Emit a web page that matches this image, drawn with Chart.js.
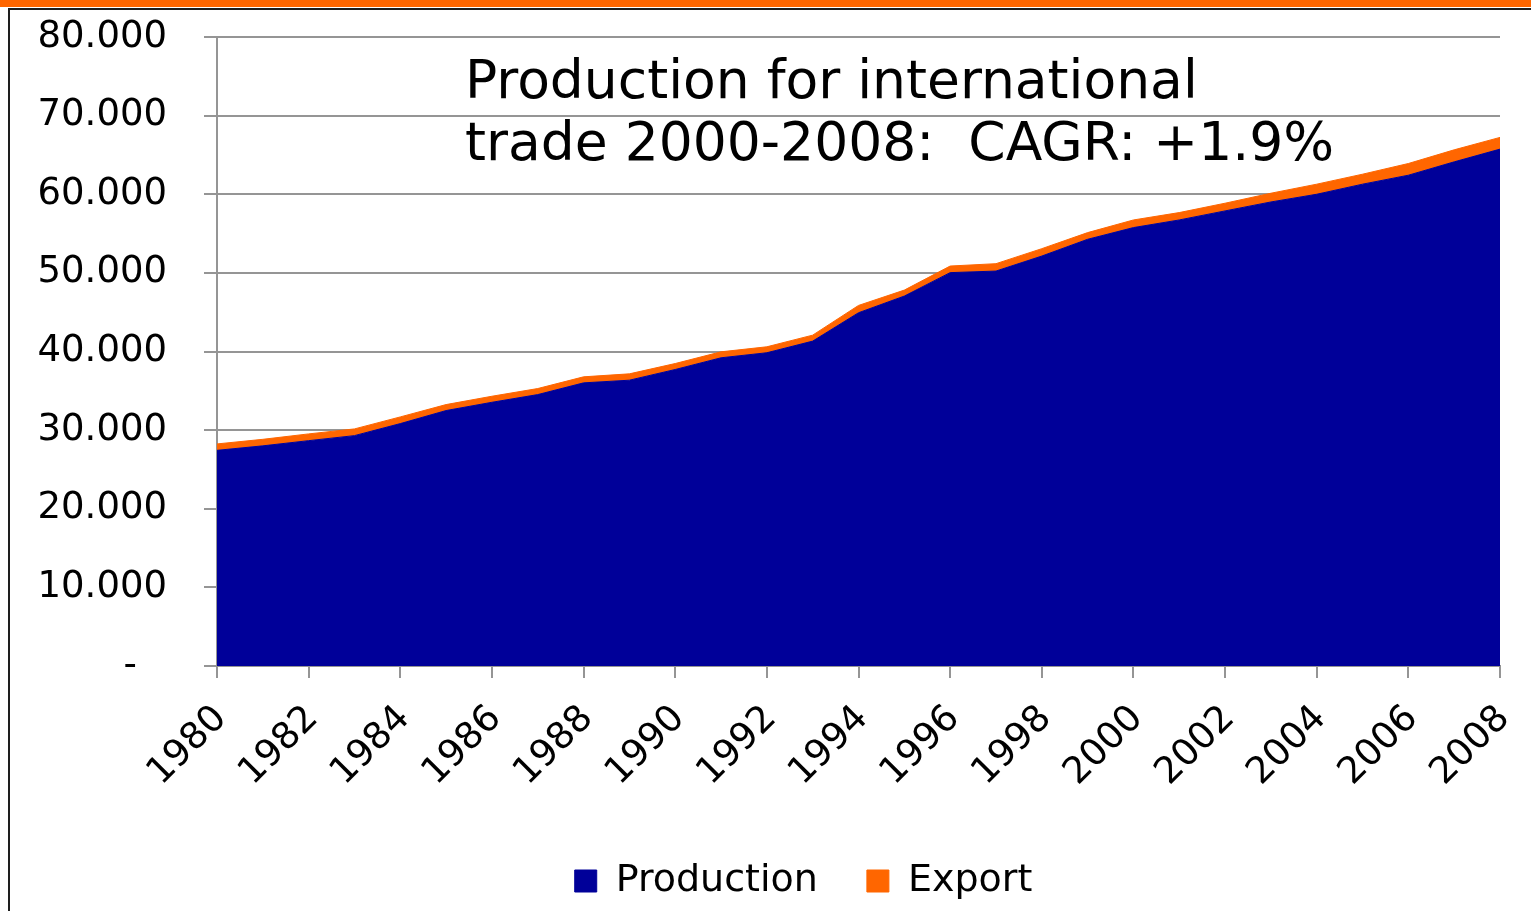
<!DOCTYPE html>
<html>
<head>
<meta charset="utf-8">
<script src="https://cdn.jsdelivr.net/npm/chart.js@4.4.1/dist/chart.umd.min.js"></script>
<style>
  html, body { margin: 0; padding: 0; background: #ffffff; }
  #wrap { position: relative; width: 1531px; height: 911px; overflow: hidden; background: #fff; }
  #c { position: absolute; left: 0; top: 0; }
  .orange { position: absolute; left: 0; top: 0; width: 1531px; height: 7px; background: #FF6600; }
  .hline { position: absolute; left: 8px; top: 8px; width: 1523px; height: 2px; background: #1e1e1e; }
  .vline { position: absolute; left: 8px; top: 8px; width: 2px; height: 903px; background: #1e1e1e; }
  #title { position: absolute; left: 465px; top: 49px; font-family: "DejaVu Sans", Verdana, sans-serif;
           font-size: 53.5px; line-height: 62px; color: #000; white-space: pre; }
</style>
</head>
<body>
<div id="wrap">
  <canvas id="c" width="1531" height="911"></canvas>
  <div class="orange"></div>
  <div class="hline"></div>
  <div class="vline"></div>
  <div id="title">Production for international
trade 2000-2008:  CAGR: +1.9%</div>
</div>
<script>
const years = [1980,1981,1982,1983,1984,1985,1986,1987,1988,1989,1990,1991,1992,1993,1994,
               1995,1996,1997,1998,1999,2000,2001,2002,2003,2004,2005,2006,2007,2008];
const production = [27430,28000,28660,29300,30830,32490,33540,34520,36010,36350,37710,39200,39840,41320,44930,
                    47050,50030,50230,52140,54270,55760,56730,57880,59020,60000,61280,62420,64120,65740];
const exportVals = [815,830,860,855,850,760,770,770,770,810,760,760,760,760,930,
                    760,840,940,940,850,970,940,980,1110,1280,1270,1490,1530,1490];
const yTicks = [0,10000,20000,30000,40000,50000,60000,70000,80000];
const seriesNames = ['Production', 'Export'];

const FONT = '"DejaVu Sans", Verdana, sans-serif';
const GRID = '#959595';

const prodPts = years.map((y, i) => ({x: y, y: production[i]}));
const expPts = years.map((y, i) => ({x: y, y: exportVals[i]}));

// place the bottom legend block where the reference has it
const legendShift = {
  id: 'legendShift',
  afterLayout(chart) {
    const lg = chart.legend;
    if (lg) { lg.left = 107; lg.right = 1500; }
  }
};

new Chart(document.getElementById('c'), {
  type: 'line',
  data: {
    datasets: [
      { label: seriesNames[0], data: prodPts, fill: 'origin', backgroundColor: '#000099',
        borderColor: '#000099', borderWidth: 1, pointRadius: 0, tension: 0 },
      { label: seriesNames[1], data: expPts, fill: '-1', backgroundColor: '#FF6600',
        borderColor: '#FF6600', borderWidth: 1, pointRadius: 0, tension: 0 }
    ]
  },
  plugins: [legendShift],
  options: {
    responsive: false,
    animation: false,
    devicePixelRatio: 1,
    layout: { padding: { left: 20, right: 31, top: 37, bottom: 1 } },
    plugins: {
      legend: {
        position: 'bottom',
        labels: {
          boxWidth: 22, boxHeight: 22, padding: 49, color: '#000',
          font: { family: FONT, size: 38 }
        }
      },
      tooltip: { enabled: false }
    },
    scales: {
      x: {
        type: 'linear', min: years[0], max: years[years.length - 1],
        afterFit: s => { s.height = 147; s.paddingLeft = 0; s.paddingRight = 0; },
        ticks: {
          stepSize: 2, autoSkip: false, minRotation: 45, maxRotation: 45, padding: 19, labelOffset: 4,
          color: '#000', font: { family: FONT, size: 37 },
          callback: v => String(v)
        },
        grid: { drawOnChartArea: false, drawTicks: true, tickLength: 12, color: GRID, lineWidth: 2 },
        border: { color: GRID, width: 2 }
      },
      y: {
        stacked: true, min: 0, max: 80000,
        afterFit: s => { s.width = 197; s.paddingTop = 0; s.paddingBottom = 0; },
        afterBuildTicks: s => { s.ticks = yTicks.map(v => ({value: v})); },
        ticks: {
          padding: 37, color: '#000', font: { family: FONT, size: 37 },
          callback: v => v === 0 ? '-\u2002 ' : (v / 1000) + '.000'
        },
        grid: { color: GRID, lineWidth: 2, tickLength: 13 },
        border: { color: GRID, width: 2 }
      }
    }
  }
});
</script>
</body>
</html>
